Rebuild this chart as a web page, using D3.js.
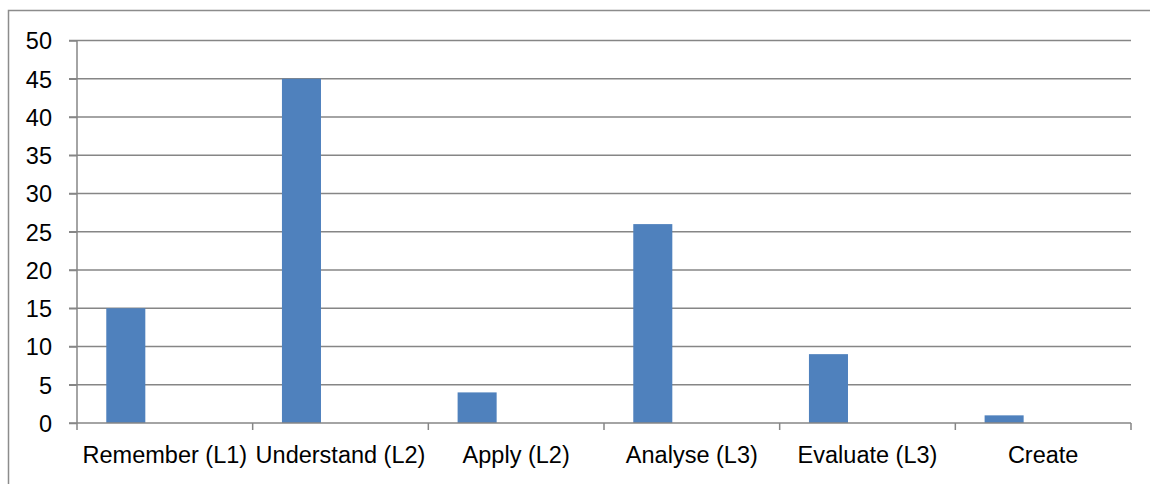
<!DOCTYPE html>
<html><head><meta charset="utf-8">
<script src="https://cdn.jsdelivr.net/npm/d3@7"></script>
<style>html,body{margin:0;padding:0;background:#fff;}svg{display:block;}</style>
</head><body>
<svg id="c" width="1150" height="484"></svg>
<script>
const categories = ["Remember (L1)", "Understand (L2)", "Apply (L2)", "Analyse (L3)", "Evaluate (L3)", "Create"];
const values = [15, 45, 4, 26, 9, 1];
const seriesSlots = ["s1", "s2", "s3"];
const yTicks = [0, 5, 10, 15, 20, 25, 30, 35, 40, 45, 50];

(function () {
const svg = d3.select("#c");
const mLeft = 77, mRight = 1131, mTop = 40.5, mBottom = 423;
const font = "'Liberation Sans', Arial, sans-serif";
const gray = "#868686";

// outer frame
svg.append("rect").attr("x", 8.5).attr("y", 10.5).attr("width", 1160).attr("height", 500)
  .attr("fill", "none").attr("stroke", "#8c8c8c").attr("stroke-width", 1.5);

const x0 = d3.scaleBand().domain(categories).range([mLeft, mRight]).paddingInner(0).paddingOuter(0);
const x1 = d3.scaleBand().domain(seriesSlots).range([0, x0.bandwidth()]).paddingInner(0).paddingOuter(0.75);
const y = d3.scaleLinear().domain([0, 50]).range([mBottom, mTop]);

// gridlines
svg.append("g").selectAll("line").data(yTicks.filter(d => d > 0)).join("line")
  .attr("x1", mLeft - 8).attr("x2", mRight)
  .attr("y1", d => y(d)).attr("y2", d => y(d))
  .attr("stroke", gray).attr("stroke-width", 1.5);

// y axis
const yAxis = d3.axisLeft(y).tickValues(yTicks).tickSize(8).tickPadding(17);
const gy = svg.append("g").attr("transform", `translate(${mLeft},0)`).call(yAxis);
gy.select(".domain").attr("stroke", gray).attr("stroke-width", 1.5).attr("d", `M0,${mTop}V${mBottom}`);
gy.selectAll(".tick line").attr("stroke", gray).attr("stroke-width", 1.5);
gy.selectAll(".tick text").attr("font-family", font).attr("font-size", 23.5).attr("fill", "#000").attr("dy", "0.36em");

// bars
svg.append("g").selectAll("rect").data(values).join("rect")
  .attr("x", (d, i) => x0(categories[i]) + x1("s1"))
  .attr("width", x1.bandwidth())
  .attr("y", d => y(d))
  .attr("height", d => y(0) - y(d))
  .attr("fill", "#4f81bd");

// x axis
const xAxis = d3.axisBottom(x0).tickSize(0).tickPadding(0);
const gx = svg.append("g").attr("transform", `translate(0,${mBottom})`).call(xAxis);
gx.select(".domain").remove();
gx.selectAll(".tick line").remove();
gx.append("line").attr("x1", mLeft - 8).attr("x2", mRight).attr("y1", 0).attr("y2", 0)
  .attr("stroke", gray).attr("stroke-width", 1.5);
const boundaries = categories.map(c => x0(c)).concat([mRight]);
gx.selectAll(".bt").data(boundaries).join("line").attr("class", "bt")
  .attr("x1", d => d).attr("x2", d => d).attr("y1", 0).attr("y2", 7)
  .attr("stroke", gray).attr("stroke-width", 1.5);
gx.selectAll(".tick text").attr("font-family", font).attr("font-size", 23.5).attr("fill", "#000")
  .attr("dy", 0).attr("y", 40);
})();
</script>
</body></html>
